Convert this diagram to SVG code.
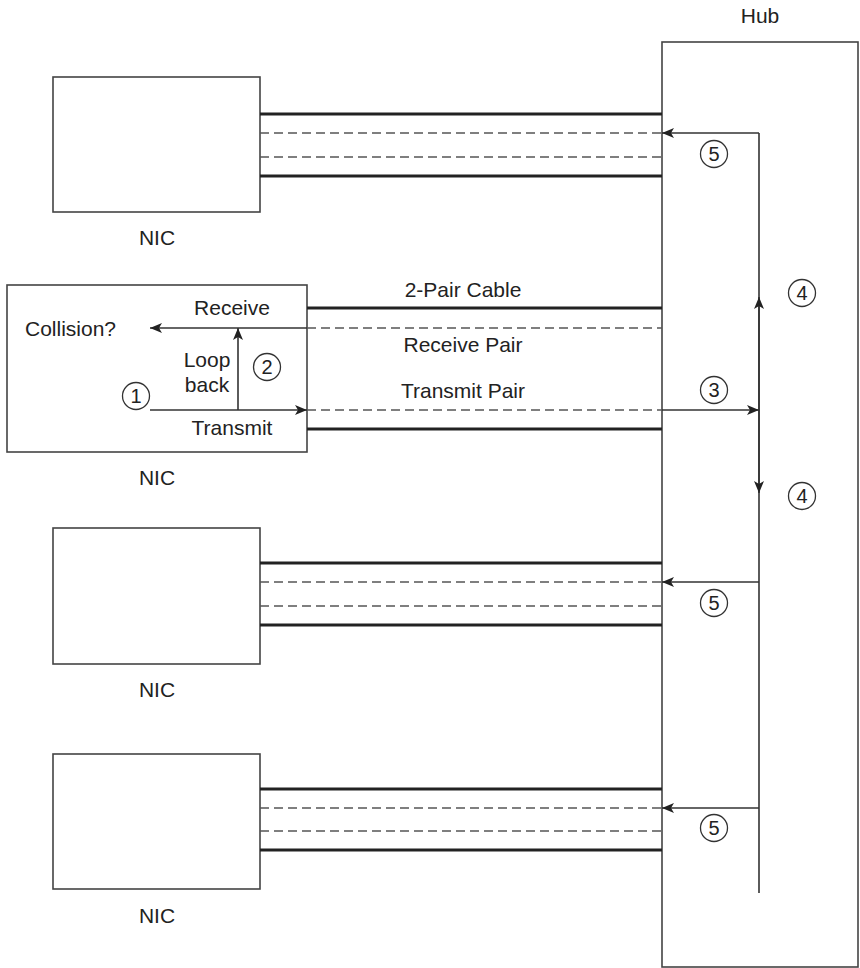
<svg xmlns="http://www.w3.org/2000/svg" width="860" height="968" viewBox="0 0 860 968">
<defs>
<style>
text{font-family:"Liberation Sans",Arial,sans-serif;font-size:21px;fill:#222}
.c{text-anchor:middle}
.box{fill:#fff;stroke:#444;stroke-width:1.6}
.thick{stroke:#222;stroke-width:2.8;fill:none}
.dash{stroke:#555;stroke-width:1.5;stroke-dasharray:9,5;fill:none}
.ln{stroke:#333;stroke-width:1.6;fill:none}
.num{fill:none;stroke:#333;stroke-width:1.3}
.nt{font-size:20px;text-anchor:middle}
</style>
<marker id="ah" viewBox="0 0 12 10" refX="12" refY="5" markerWidth="12" markerHeight="10" markerUnits="userSpaceOnUse" orient="auto">
<path d="M0,0 L12,5 L0,10 L3,5 z" fill="#222"/>
</marker>
</defs>
<rect width="860" height="968" fill="#fff"/>

<g id="hub">
<rect class="box" x="662" y="42" width="196" height="925"/>
<text class="c" x="760" y="23">Hub</text>
</g>

<g id="nic1">
<rect class="box" x="53" y="77" width="207" height="135"/>
<text class="c" x="157" y="245">NIC</text>
</g>

<g id="nic2">
<rect class="box" x="7" y="285" width="300" height="167"/>
<text class="c" x="157" y="485">NIC</text>
<text class="c" x="232" y="315">Receive</text>
<text x="25" y="336">Collision?</text>
<text class="c" x="207" y="367">Loop</text>
<text class="c" x="207" y="392">back</text>
<text class="c" x="232" y="435">Transmit</text>
</g>

<g id="nic3">
<rect class="box" x="53" y="528" width="207" height="136"/>
<text class="c" x="157" y="697">NIC</text>
</g>

<g id="nic4">
<rect class="box" x="53" y="754" width="207" height="135"/>
<text class="c" x="157" y="923">NIC</text>
</g>

<g id="cables">
<line class="thick" x1="260" y1="114" x2="662" y2="114"/>
<line class="dash" x1="260" y1="133" x2="662" y2="133"/>
<line class="dash" x1="260" y1="157" x2="662" y2="157"/>
<line class="thick" x1="260" y1="176" x2="662" y2="176"/>

<line class="thick" x1="307" y1="308" x2="662" y2="308"/>
<line class="dash" x1="307" y1="328" x2="662" y2="328"/>
<line class="dash" x1="307" y1="410" x2="662" y2="410"/>
<line class="thick" x1="307" y1="429" x2="662" y2="429"/>

<line class="thick" x1="260" y1="563" x2="662" y2="563"/>
<line class="dash" x1="260" y1="582" x2="662" y2="582"/>
<line class="dash" x1="260" y1="606" x2="662" y2="606"/>
<line class="thick" x1="260" y1="625" x2="662" y2="625"/>

<line class="thick" x1="260" y1="789" x2="662" y2="789"/>
<line class="dash" x1="260" y1="808" x2="662" y2="808"/>
<line class="dash" x1="260" y1="831" x2="662" y2="831"/>
<line class="thick" x1="260" y1="850" x2="662" y2="850"/>

<text class="c" x="463" y="297">2-Pair Cable</text>
<text class="c" x="463" y="352">Receive Pair</text>
<text class="c" x="463" y="398">Transmit Pair</text>
</g>

<g id="connectors">
<line class="ln" x1="759" y1="133" x2="759" y2="893"/>
<line class="ln" x1="759" y1="133" x2="662" y2="133" marker-end="url(#ah)"/>
<line class="ln" x1="759" y1="582" x2="662" y2="582" marker-end="url(#ah)"/>
<line class="ln" x1="759" y1="808" x2="662" y2="808" marker-end="url(#ah)"/>
<line class="ln" x1="759" y1="410" x2="759" y2="297" marker-end="url(#ah)"/>
<line class="ln" x1="759" y1="410" x2="759" y2="493" marker-end="url(#ah)"/>
<line class="ln" x1="662" y1="410" x2="759" y2="410" marker-end="url(#ah)"/>
<line class="ln" x1="150" y1="410" x2="307" y2="410" marker-end="url(#ah)"/>
<line class="ln" x1="238" y1="410" x2="238" y2="328" marker-end="url(#ah)"/>
<line class="ln" x1="307" y1="328" x2="150" y2="328" marker-end="url(#ah)"/>
</g>

<g id="steps">
<circle class="num" cx="136" cy="396" r="13.5"/><text class="nt" x="136" y="403">1</text>
<circle class="num" cx="267" cy="367" r="13.5"/><text class="nt" x="267" y="374">2</text>
<circle class="num" cx="714" cy="390" r="13.5"/><text class="nt" x="714" y="397">3</text>
<circle class="num" cx="802" cy="293" r="13.5"/><text class="nt" x="802" y="300">4</text>
<circle class="num" cx="802" cy="496" r="13.5"/><text class="nt" x="802" y="503">4</text>
<circle class="num" cx="714" cy="154" r="13.5"/><text class="nt" x="714" y="161">5</text>
<circle class="num" cx="714" cy="603" r="13.5"/><text class="nt" x="714" y="610">5</text>
<circle class="num" cx="714" cy="828" r="13.5"/><text class="nt" x="714" y="835">5</text>
</g>
</svg>
